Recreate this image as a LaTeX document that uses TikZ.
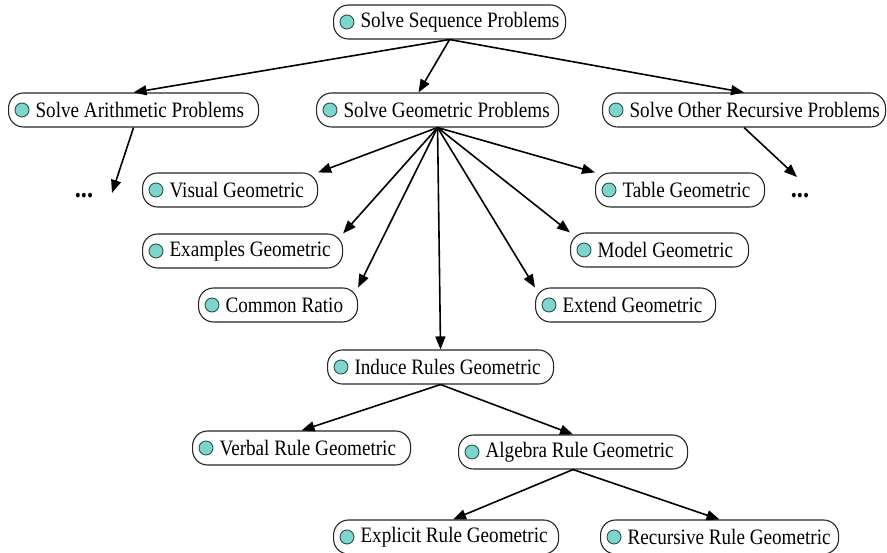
\documentclass[tikz,border=0pt]{standalone}
\usepackage{fontspec}
\setmainfont{Liberation Serif}[FakeStretch=0.87]
\usetikzlibrary{arrows.meta}
\definecolor{dotfill}{HTML}{7DD6CB}
\definecolor{dotline}{HTML}{2F4F4F}
\newcommand{\boxtext}[2]{\makebox[#1][l]{\hspace*{22pt}#2}}
\begin{document}
\begin{tikzpicture}[x=1pt,y=-1pt,
  box/.style={draw=black!85, line width=1.1pt, rounded corners=15pt, minimum height=34pt,
    inner xsep=5pt, inner ysep=0pt, anchor=west, fill=white,
    font=\fontsize{22}{24}\selectfont},
  arr/.style={line width=1.6pt, -{Triangle[length=13pt,width=10pt]}},
  bul/.style={draw=dotline, fill=dotfill, line width=0.9pt},
  dotsnode/.style={font=\fontsize{28}{28}\selectfont\bfseries, inner sep=0pt}]
\useasboundingbox (0,0) rectangle (887,553);
\node[box] (root) at (333,22) {\boxtext{222pt}{Solve Sequence Problems}};
\node[box] (arith) at (8,110) {\boxtext{240pt}{Solve Arithmetic Problems}};
\node[box] (geo) at (316,110) {\boxtext{232pt}{Solve Geometric Problems}};
\node[box] (other) at (602,110) {\boxtext{273pt}{Solve Other Recursive Problems}};
\node[box] (vis) at (142,190) {\boxtext{165pt}{Visual Geometric}};
\node[box] (table) at (595,190) {\boxtext{159pt}{Table Geometric}};
\node[box] (ex) at (142,251) {\boxtext{190pt}{Examples Geometric}};
\node[box] (model) at (570,250) {\boxtext{168pt}{Model Geometric}};
\node[box] (ratio) at (198,305) {\boxtext{149pt}{Common Ratio}};
\node[box] (extend) at (535,305) {\boxtext{170pt}{Extend Geometric}};
\node[box] (induce) at (327,367) {\boxtext{216pt}{Induce Rules Geometric}};
\node[box] (verbal) at (192,448) {\boxtext{208pt}{Verbal Rule Geometric}};
\node[box] (algebra) at (458,452) {\boxtext{219pt}{Algebra Rule Geometric}};
\node[box] (explicit) at (333,537) {\boxtext{215pt}{Explicit Rule Geometric}};
\node[box] (recursive) at (600,537) {\boxtext{228pt}{Recursive Rule Geometric}};
\foreach \n in {root,arith,geo,other,vis,table,ex,model,ratio,extend,induce,verbal,algebra,explicit,recursive}
  \draw[bul] ([xshift=14pt]\n.west) circle (7pt);
\node[dotsnode] (dotsL) at (84,196) {...};
\node[dotsnode] (dotsR) at (800,196) {...};
\coordinate (endL) at (112,193);
\coordinate (endR) at (797,177);
\draw[arr] (root.south) -- (arith.north);
\draw[arr] (root.south) -- ([xshift=-19pt]geo.north);
\draw[arr] (root.south) -- (other.north);
\draw[arr] (arith.south) -- (endL);
\draw[arr] (other.south) -- (endR);
\draw[arr] (geo.south) -- (vis.north east);
\draw[arr] (geo.south) -- (ex.north east);
\draw[arr] (geo.south) -- (ratio.north east);
\draw[arr] (geo.south) -- (induce.north);
\draw[arr] (geo.south) -- (extend.north west);
\draw[arr] (geo.south) -- (model.north west);
\draw[arr] (geo.south) -- (table.north west);
\draw[arr] (induce.south) -- (verbal.north);
\draw[arr] (induce.south) -- (algebra.north);
\draw[arr] (algebra.south) -- ([xshift=7pt]explicit.north);
\draw[arr] (algebra.south) -- (recursive.north);
\end{tikzpicture}
\end{document}
